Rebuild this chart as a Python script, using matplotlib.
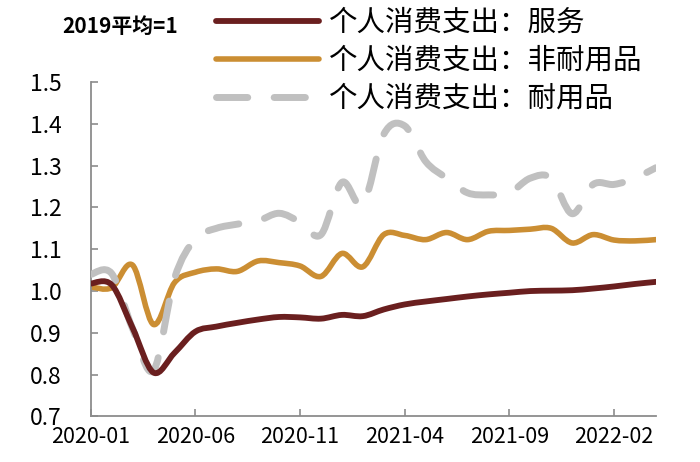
import numpy as np
import pandas as pd
import matplotlib
matplotlib.use('Agg')
import matplotlib.pyplot as plt
from matplotlib.path import Path
from matplotlib.patches import PathPatch
from matplotlib.lines import Line2D
from matplotlib.ticker import FormatStrFormatter, FixedLocator

plt.rcParams['font.family'] = ['Noto Sans CJK SC', 'DejaVu Sans']

months = list(pd.date_range('2020-01', periods=28, freq='MS').strftime('%Y-%m'))

services = [1.018, 1.015, 0.912, 0.805, 0.852, 0.903, 0.915, 0.924, 0.932, 0.938,
            0.937, 0.934, 0.943, 0.940, 0.956, 0.968, 0.975, 0.981, 0.987, 0.992,
            0.996, 1.000, 1.001, 1.002, 1.006, 1.011, 1.017, 1.022]
nondurables = [1.010, 1.008, 1.062, 0.920, 1.020, 1.045, 1.053, 1.047, 1.072, 1.068,
               1.060, 1.035, 1.090, 1.058, 1.135, 1.133, 1.123, 1.140, 1.123, 1.143,
               1.145, 1.148, 1.150, 1.115, 1.135, 1.122, 1.120, 1.123]
durables = [1.040, 1.042, 0.910, 0.810, 1.030, 1.125, 1.150, 1.160, 1.168, 1.186,
            1.165, 1.135, 1.260, 1.207, 1.375, 1.395, 1.310, 1.270, 1.235, 1.230,
            1.235, 1.270, 1.270, 1.185, 1.255, 1.255, 1.270, 1.295]

labels = ['个人消费支出：服务', '个人消费支出：非耐用品', '个人消费支出：耐用品']
colors = ['#6A1F1F', '#CB8E33', '#C0C0C0']


def smooth_patch(ax, y, **kw):
    x = np.arange(len(y), dtype=float)
    y = np.asarray(y, dtype=float)
    n = len(y)
    verts = [(x[0], y[0])]
    codes = [Path.MOVETO]
    for i in range(n - 1):
        x0, y0 = (x[i - 1], y[i - 1]) if i > 0 else (x[i], y[i])
        x3, y3 = (x[i + 2], y[i + 2]) if i + 2 < n else (x[i + 1], y[i + 1])
        c1 = (x[i] + (x[i + 1] - x0) / 6, y[i] + (y[i + 1] - y0) / 6)
        c2 = (x[i + 1] - (x3 - x[i]) / 6, y[i + 1] - (y3 - y[i]) / 6)
        verts += [c1, c2, (x[i + 1], y[i + 1])]
        codes += [Path.CURVE4] * 3
    p = PathPatch(Path(verts, codes), fill=False, capstyle='round',
                  joinstyle='round', **kw)
    ax.add_patch(p)
    return p


fig = plt.figure(figsize=(7, 4.62), dpi=100)
ax = fig.add_axes([0.1296, 0.0985, 0.937 - 0.1296, 0.8225 - 0.0985])

dash = (0, (4.5, 3.8))
smooth_patch(ax, durables, edgecolor=colors[2], linewidth=5, linestyle=dash, zorder=3)
smooth_patch(ax, nondurables, edgecolor=colors[1], linewidth=4, zorder=2)
smooth_patch(ax, services, edgecolor=colors[0], linewidth=4.2, zorder=4)

ax.set_xlim(0, len(months) - 1)
ax.set_ylim(0.7, 1.5)
tick_idx = list(range(0, len(months), 5))
ax.xaxis.set_major_locator(FixedLocator(tick_idx))
ax.set_xticklabels([months[i] for i in tick_idx])
ax.yaxis.set_major_locator(FixedLocator(np.arange(0.7, 1.51, 0.1)))
ax.yaxis.set_major_formatter(FormatStrFormatter('%.1f'))

for s in ['top', 'right']:
    ax.spines[s].set_visible(False)
for s in ['left', 'bottom']:
    ax.spines[s].set_color('#8C8C8C')
    ax.spines[s].set_linewidth(1.3)

ax.tick_params(axis='y', direction='in', length=5, width=1.2, color='#8C8C8C',
               pad=21, labelsize=16.5)
ax.tick_params(axis='x', direction='in', length=5, width=1.2, color='#8C8C8C',
               pad=7, labelsize=15.5)

handles = [
    Line2D([], [], color=colors[0], lw=4.2, solid_capstyle='round'),
    Line2D([], [], color=colors[1], lw=4, solid_capstyle='round'),
    Line2D([], [], color=colors[2], lw=5, linestyle=dash, dash_capstyle='round'),
]
fig.legend(handles, labels, loc='upper left', bbox_to_anchor=(0.305, 0.989),
           frameon=False, fontsize=20.5, handlelength=3.6, handletextpad=0.35,
           labelspacing=0.28, borderpad=0.1, borderaxespad=0)

fig.text(0.171, 0.942, '2019平均=1', ha='center', va='center', fontsize=15,
         fontweight='bold')

fig.savefig('out.png', dpi=100)
